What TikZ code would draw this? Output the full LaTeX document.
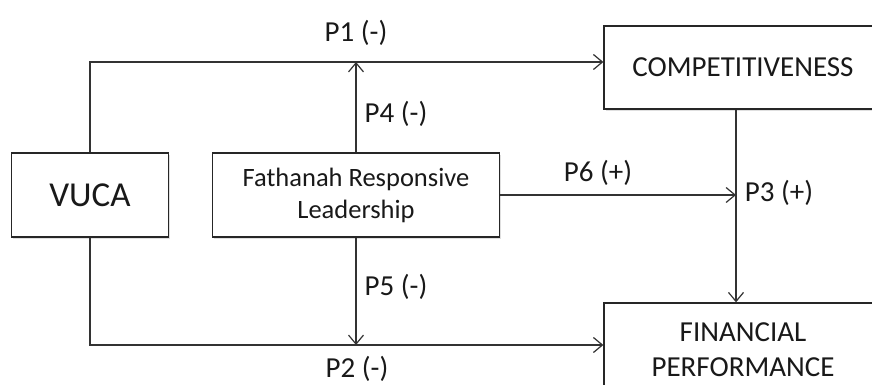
\documentclass[tikz,border=0pt]{standalone}
\usepackage{fontspec}
\setmainfont{Carlito}
\usetikzlibrary{arrows.meta,shadows}
\begin{document}
\begin{tikzpicture}[x=1pt,y=-1pt,
  box/.style={draw=black!85, line width=1.3pt, fill=white, inner sep=0pt, align=center, text=black!90,
    drop shadow={shadow xshift=1.5pt,shadow yshift=-2pt,opacity=0.25}},
  conn/.style={draw=black!80, line width=1.2pt},
  arr/.style={conn, -{Straight Barb[length=9pt,width=15pt,line width=1.2pt]}},
  lbl/.style={font=\fontsize{29}{33}\selectfont, inner sep=0pt, text=black!90}]
\useasboundingbox (0,0) rectangle (872,385);
\clip (0,0) rectangle (872,385);
\coordinate (rowA) at (0,62);
\coordinate (rowB) at (0,345);
\coordinate (colP3) at (736,0);
\node[box, minimum width=157pt, minimum height=84pt, font=\fontsize{35}{40}\selectfont] (vuca) at (90,195) {VUCA};
\node[box, minimum width=287pt, minimum height=84pt, font=\fontsize{26.5}{32}\selectfont] (frl) at (356,195) {Fathanah Responsive\\Leadership};
\node[box, minimum width=278pt, minimum height=83pt, font=\fontsize{29}{33}\selectfont] (comp) at (743,67.5) {COMPETITIVENESS};
\node[box, minimum width=278pt, minimum height=94pt, font=\fontsize{29}{35}\selectfont] (fin) at (743,350) {FINANCIAL\\PERFORMANCE};
\draw[arr] (vuca.north) |- (comp.west |- rowA);
\draw[arr] (vuca.south) |- (fin.west |- rowB);
\draw[arr] (frl.north) -- (frl.north |- rowA);
\draw[arr] (frl.south) -- (frl.south |- rowB);
\draw[arr] (frl.east) -- (frl.east -| colP3);
\draw[arr] (comp.south -| colP3) -- (fin.north -| colP3);
\node[lbl] (p1) at (356,33) {P1 (-)};
\node[lbl] (p4) at (396,114) {P4 (-)};
\node[lbl] (p5) at (396,287) {P5 (-)};
\node[lbl] (p2) at (357,368.5) {P2 (-)};
\node[lbl] (p6) at (598,173) {P6 (+)};
\node[lbl] (p3) at (779,193) {P3 (+)};
\end{tikzpicture}
\end{document}
